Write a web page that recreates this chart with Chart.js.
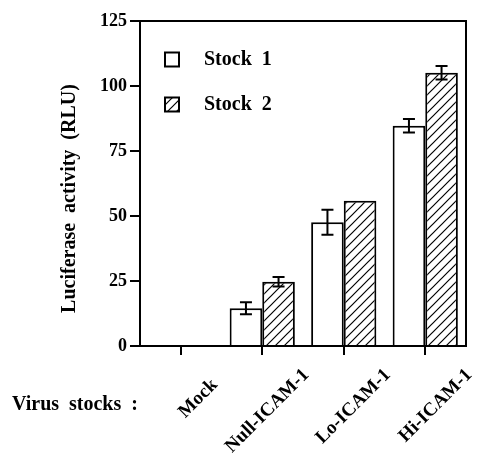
<!DOCTYPE html>
<html>
<head>
<meta charset="utf-8">
<script src="https://cdn.jsdelivr.net/npm/chart.js@4.4.1/dist/chart.umd.min.js"></script>
<style>
  html, body { margin: 0; padding: 0; background: #fff; }
  #contenedor { width: 478px; height: 454px; position: relative; }
</style>
</head>
<body>
<div id="contenedor"><canvas id="myChart"></canvas></div>
<script>
// datos
var categorias = ["Mock", "Null-ICAM-1", "Lo-ICAM-1", "Hi-ICAM-1"]
var stock1 = [0.3, 14.5, 47.6, 84.7]
var stock1Error = [0, 2.3, 4.8, 2.6]
var stock2 = [0.3, 24.7, 55.9, 105.1]
var stock2Error = [0, 1.8, 0, 2.6]
var etiquetasSeries = ["Stock  1", "Stock  2"]
var yMin = 0
var yMax = 125
var yPaso = 25

var fuente = "'Liberation Serif', 'Times New Roman', serif"
Chart.defaults.color = '#000'

function patronRayado() {
    var c = document.createElement('canvas')
    c.width = 9
    c.height = 9
    var cx = c.getContext('2d')
    cx.fillStyle = '#fff'
    cx.fillRect(0, 0, 9, 9)
    cx.strokeStyle = '#000'
    cx.lineWidth = 1.2
    cx.beginPath()
    cx.moveTo(0, 9); cx.lineTo(9, 0)
    cx.moveTo(-1, 1); cx.lineTo(1, -1)
    cx.moveTo(8, 10); cx.lineTo(10, 8)
    cx.stroke()
    return cx.createPattern(c, 'repeat')
}

// barras de error
var barrasError = {
    id: 'barrasError',
    afterDatasetsDraw: function(chart) {
        var ctx = chart.ctx
        var y = chart.scales.y
        chart.data.datasets.forEach(function(ds, i) {
            var meta = chart.getDatasetMeta(i)
            meta.data.forEach(function(barra, j) {
                var err = ds.errores[j]
                if (!err) return
                var yArriba = y.getPixelForValue(ds.data[j] + err)
                var yAbajo = y.getPixelForValue(ds.data[j] - err)
                ctx.save()
                ctx.strokeStyle = '#000'
                ctx.lineWidth = 2
                ctx.beginPath()
                ctx.moveTo(barra.x, yArriba); ctx.lineTo(barra.x, yAbajo)
                ctx.moveTo(barra.x - 6, yArriba); ctx.lineTo(barra.x + 6, yArriba)
                ctx.moveTo(barra.x - 6, yAbajo); ctx.lineTo(barra.x + 6, yAbajo)
                ctx.stroke()
                ctx.restore()
            })
        })
    }
}

// marco superior y derecho, titulo del eje y, texto "Virus stocks :"
var marco = {
    id: 'marco',
    afterDraw: function(chart) {
        var ctx = chart.ctx
        var a = chart.chartArea
        ctx.save()
        ctx.strokeStyle = '#000'
        ctx.lineWidth = 2
        ctx.beginPath()
        ctx.moveTo(a.left, a.top)
        ctx.lineTo(a.right, a.top)
        ctx.lineTo(a.right, a.bottom)
        ctx.stroke()
        ctx.fillStyle = '#000'
        ctx.font = "bold 20px " + fuente
        ctx.textBaseline = 'middle'
        ctx.textAlign = 'left'
        ctx.fillText("Virus  stocks  :", 12, 405)

        ctx.translate(70, (a.top + a.bottom) / 2 + 15)
        ctx.rotate(-Math.PI / 2)
        ctx.textAlign = 'center'
        ctx.fillText("Luciferase  activity  (RLU)", 0, 0)
        ctx.restore()
    }
}

var chart = new Chart("myChart", {
    type: "bar",
    data: {
        labels: categorias,
        datasets: [{
            label: etiquetasSeries[0],
            data: stock1,
            errores: stock1Error,
            backgroundColor: '#fff',
            borderColor: '#000',
            borderWidth: 2
        }, {
            label: etiquetasSeries[1],
            data: stock2,
            errores: stock2Error,
            backgroundColor: patronRayado(),
            borderColor: '#000',
            borderWidth: 2
        }]
    },
    options: {
        responsive: true,
        maintainAspectRatio: false,
        animation: false,
        barPercentage: 1.0,
        categoryPercentage: 0.8,
        layout: { padding: { top: 21, right: 12, left: 0, bottom: 0 } },
        scales: {
            x: {
                afterFit: function(scale) { scale.height = 108 },
                grid: { display: true, drawOnChartArea: false, offset: false, tickLength: 9, color: '#000', lineWidth: 2 },
                border: { display: true, color: '#000', width: 2 },
                ticks: {
                    font: { family: fuente, size: 19, weight: 'bold' },
                    color: '#000',
                    minRotation: 45,
                    maxRotation: 45,
                    labelOffset: 44,
                    padding: 9,
                    // "Mock" es corto: se corre un poco hacia abajo a la izquierda
                    callback: function(value, index) {
                        var t = this.getLabelForValue(value)
                        return index === 0 ? t + '   ' : t
                    }
                }
            },
            y: {
                min: yMin,
                max: yMax,
                afterFit: function(scale) { scale.width = 140 },
                grid: { display: true, drawOnChartArea: false, tickLength: 10, color: '#000', lineWidth: 2 },
                border: { display: true, color: '#000', width: 2 },
                ticks: {
                    stepSize: yPaso,
                    font: { family: fuente, size: 18, weight: 'bold' },
                    color: '#000',
                    padding: 3
                }
            }
        },
        plugins: {
            legend: {
                display: true,
                position: 'chartArea',
                align: 'start',
                title: { display: true, text: ' ', font: { size: 2 }, padding: { top: 0, bottom: 22 } },
                labels: {
                    boxWidth: 14,
                    boxHeight: 14,
                    padding: 25,
                    color: '#000',
                    font: { family: fuente, size: 20, weight: 'bold' },
                    generateLabels: function(chart) {
                        var items = Chart.defaults.plugins.legend.labels.generateLabels(chart)
                        items.forEach(function(it) { it.text = '   ' + it.text })
                        return items
                    }
                }
            },
            tooltip: { enabled: false }
        }
    },
    plugins: [barrasError, marco]
});
</script>
</body>
</html>
